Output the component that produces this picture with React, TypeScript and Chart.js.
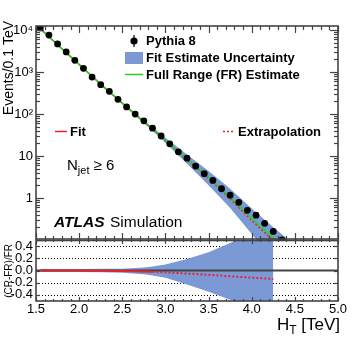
import React, { useEffect, useRef } from 'react';
import { Chart, registerables } from 'chart.js';

Chart.register(...registerables);

const FONT = "'Liberation Sans', Arial, Helvetica, sans-serif";

// Pythia 8 simulated events per 0.1 TeV bin (bin centres in TeV)
const binCenters = [1.55, 1.65, 1.75, 1.85, 1.95, 2.05, 2.15, 2.25, 2.35, 2.45, 2.55, 2.65, 2.75, 2.85, 2.95, 3.05, 3.15, 3.25, 3.35, 3.45, 3.55, 3.65, 3.75, 3.85, 3.95, 4.05, 4.15, 4.25, 4.35];
const pythiaEvents = [11220, 7590, 4680, 3020, 1905, 1230, 759, 501, 347, 224, 148, 100, 69, 46, 30, 19.5, 12.6, 8.9, 5.75, 3.8, 2.63, 1.66, 1.17, 0.79, 0.51, 0.39, 0.25, 0.16, 0.1];

// Smooth curves sampled along H_T
const curveX = [1.5, 1.55, 1.75, 2.0, 2.25, 2.5, 2.75, 2.85, 3.0, 3.25, 3.5, 3.75, 4.0, 4.25, 4.35, 4.4];
const fullRangeEstimate = [13200, 10720, 4470, 1510, 513, 182, 66, 44.2, 24, 8.7, 3.16, 1.05, 0.33, 0.112, 0.072, 0.058];
// (CR-FR)/FR of the control-region fit
const fitRatio = [null, 0, 0, 0, -0.005, -0.01, -0.017, -0.02, -0.03, -0.05, -0.07, -0.095, -0.118, -0.14, null, null];
// fit estimate uncertainty band in the ratio panel
const bandUp = [null, 0.025, 0.025, 0.025, 0.027, 0.03, 0.05, 0.065, 0.1, 0.19, 0.3, 0.45, 0.62, 0.85, null, null];
const bandDown = [null, -0.025, -0.025, -0.025, -0.03, -0.035, -0.06, -0.08, -0.12, -0.23, -0.35, -0.48, -0.62, -0.75, null, null];
// fit estimate uncertainty band in the main panel, relative to FR
const topBandUp = [null, 0.025, 0.025, 0.025, 0.03, 0.04, 0.07, 0.09, 0.14, 0.25, 0.4, 0.58, 0.7, 0.8, 0.9, 0.95];
const topBandDown = [null, -0.025, -0.025, -0.025, -0.03, -0.04, -0.07, -0.09, -0.14, -0.25, -0.36, -0.45, -0.58, -0.72, -0.76, -0.8];

const fitEnd = 2.85; // end of fitted control region

const xTicks = [1.5, 2.0, 2.5, 3.0, 3.5, 4.0, 4.5, 5.0];
const xTickLabels = ['1.5', '2.0', '2.5', '3.0', '3.5', '4.0', '4.5', '5.0'];
const yTicks = [1, 10, 100, 1000, 10000];
const yTickLabels = ['1', '10', '10²', '10³', '10⁴'];
const rTicks = [-0.4, -0.2, 0, 0.2, 0.4];
const rTickLabels = ['-0.4', '-0.2', '0.0', '0.2', '0.4'];
const rGrid = [-0.4, -0.2, 0.2, 0.4];

const BAND = 'rgb(122,153,213)';
const GREEN = '#1fd41f';
const RED = '#e8242a';
const FRAME = '#444';

type P = { x: number; y: number };

function buildSeries(pred: (i: number) => boolean, val: (i: number) => number): P[] {
  const out: P[] = [];
  curveX.forEach((x, i) => {
    if (pred(i)) out.push({ x, y: val(i) });
  });
  return out;
}

const decor = {
  id: 'decor',
  beforeDatasetsDraw(chart: any) {
    const ctx = chart.ctx as CanvasRenderingContext2D;
    const xs = chart.scales.x;
    const r = chart.scales.yRatio;
    ctx.save();
    ctx.strokeStyle = '#000';
    ctx.lineWidth = 1;
    ctx.setLineDash([1, 2]);
    for (const v of rGrid) {
      const yy = Math.round(r.getPixelForValue(v)) + 0.5;
      ctx.beginPath();
      ctx.moveTo(xs.left, yy);
      ctx.lineTo(xs.right, yy);
      ctx.stroke();
    }
    ctx.restore();
  },
  afterDraw(chart: any) {
    const ctx = chart.ctx as CanvasRenderingContext2D;
    const xs = chart.scales.x;
    const y = chart.scales.y;
    const r = chart.scales.yRatio;
    const L = xs.left, R = xs.right;
    ctx.save();
    ctx.strokeStyle = FRAME;
    ctx.lineWidth = 1.2;
    ctx.setLineDash([]);
    const vline = (px: number, y0: number, y1: number) => {
      ctx.beginPath(); ctx.moveTo(px, y0); ctx.lineTo(px, y1); ctx.stroke();
    };
    const hline = (py: number, x0: number, x1: number) => {
      ctx.beginPath(); ctx.moveTo(x0, py); ctx.lineTo(x1, py); ctx.stroke();
    };
    // x ticks
    for (let k = 15; k <= 50; k++) {
      const px = Math.round(xs.getPixelForValue(k / 10)) + 0.5;
      const major = k % 5 === 0;
      const tTop = major ? 7 : 4;
      vline(px, y.top, y.top + tTop);
      vline(px, y.bottom, y.bottom - tTop);
      vline(px, r.top, r.top + (major ? 4 : 2));
      vline(px, r.bottom, r.bottom - (major ? 4 : 2));
    }
    // log y ticks
    for (let d = -1; d <= 4; d++) {
      for (let m = 1; m <= 9; m++) {
        const v = m * Math.pow(10, d);
        if (v < y.min || v > y.max) continue;
        const py = Math.round(y.getPixelForValue(v)) + 0.5;
        const len = m === 1 ? 8 : 4;
        hline(py, L, L + len);
        hline(py, R, R - len);
      }
    }
    // ratio y ticks
    for (const v of rTicks) {
      const py = Math.round(r.getPixelForValue(v)) + 0.5;
      hline(py, L, L + 4);
      hline(py, R, R - 4);
    }
    // frames
    ctx.lineWidth = 1.6;
    ctx.strokeRect(L, y.top, R - L, y.bottom - y.top - 1);
    ctx.strokeRect(L, r.top + 0.5, R - L, r.bottom - r.top - 0.5);

    // legend
    ctx.fillStyle = '#000';
    ctx.strokeStyle = '#000';
    ctx.lineWidth = 1.2;
    vline(134, 35, 47);
    ctx.beginPath(); ctx.arc(134, 41, 3.6, 0, Math.PI * 2); ctx.fill();
    ctx.fillStyle = BAND;
    ctx.fillRect(125, 52, 18, 12);
    ctx.strokeStyle = GREEN;
    ctx.lineWidth = 1.5;
    hline(74.5, 125, 143);
    ctx.strokeStyle = RED;
    hline(131.5, 55, 67);
    ctx.setLineDash([2, 2]);
    hline(131.5, 223, 234);
    ctx.setLineDash([]);

    ctx.fillStyle = '#000';
    ctx.textBaseline = 'alphabetic';
    ctx.textAlign = 'left';
    ctx.font = `bold 13px ${FONT}`;
    ctx.fillText('Pythia 8', 146, 45);
    ctx.fillText('Fit Estimate Uncertainty', 146, 62);
    ctx.fillText('Full Range (FR) Estimate', 146, 79);
    ctx.fillText('Fit', 70, 136);
    ctx.fillText('Extrapolation', 238, 136);

    // N_jet >= 6
    ctx.font = `15px ${FONT}`;
    ctx.fillText('N', 67, 170);
    let cx = 67 + ctx.measureText('N').width;
    ctx.font = `11px ${FONT}`;
    ctx.fillText('jet', cx, 174);
    cx += ctx.measureText('jet').width;
    ctx.font = `15px ${FONT}`;
    ctx.fillText(' ≥ 6', cx, 170);

    // ATLAS Simulation
    ctx.font = `italic bold 15.5px ${FONT}`;
    ctx.fillText('ATLAS', 54, 227);
    ctx.font = `15.5px ${FONT}`;
    ctx.fillText('Simulation', 110, 227);

    // x title
    ctx.font = `17px ${FONT}`;
    const wH = ctx.measureText('H').width;
    const w3 = ctx.measureText(' [TeV]').width;
    ctx.font = `12px ${FONT}`;
    const wT = ctx.measureText('T').width;
    let tx = 340 - (wH + wT + w3);
    ctx.font = `17px ${FONT}`;
    ctx.fillText('H', tx, 330);
    tx += wH;
    ctx.font = `12px ${FONT}`;
    ctx.fillText('T', tx, 334);
    tx += wT;
    ctx.font = `17px ${FONT}`;
    ctx.fillText(' [TeV]', tx, 330);

    // y titles
    ctx.save();
    ctx.translate(13, 21);
    ctx.rotate(-Math.PI / 2);
    ctx.textAlign = 'right';
    ctx.font = `14px ${FONT}`;
    ctx.fillText('Events/0.1 TeV', 0, 0);
    ctx.restore();
    ctx.save();
    ctx.translate(12, 244);
    ctx.rotate(-Math.PI / 2);
    ctx.textAlign = 'right';
    ctx.font = `10px ${FONT}`;
    ctx.fillText('(CR-FR)/FR', 0, 0);
    ctx.restore();

    ctx.restore();
  },
};

export default function App() {
  const ref = useRef<HTMLCanvasElement | null>(null);

  useEffect(() => {
    if (!ref.current) return;

    const points: P[] = binCenters.map((x, i) => ({ x, y: pythiaEvents[i] }));
    const frLine = buildSeries(() => true, (i) => fullRangeEstimate[i]);
    const has = (i: number) => fitRatio[i] !== null;
    const fitTop = buildSeries((i) => has(i) && curveX[i] <= fitEnd, (i) => fullRangeEstimate[i] * (1 + (fitRatio[i] as number)));
    const extTop = buildSeries((i) => has(i) && curveX[i] >= fitEnd, (i) => fullRangeEstimate[i] * (1 + (fitRatio[i] as number)));
    const fitRat = buildSeries((i) => has(i) && curveX[i] <= fitEnd, (i) => fitRatio[i] as number);
    const extRat = buildSeries((i) => has(i) && curveX[i] >= fitEnd, (i) => fitRatio[i] as number);
    const hasT = (i: number) => topBandUp[i] !== null;
    const bandTopUp = buildSeries(hasT, (i) => fullRangeEstimate[i] * (1 + (topBandUp[i] as number)));
    const bandTopDn = buildSeries(hasT, (i) => fullRangeEstimate[i] * (1 + (topBandDown[i] as number)));
    const hasB = (i: number) => bandUp[i] !== null;
    const bandRatUp = buildSeries(hasB, (i) => bandUp[i] as number);
    const bandRatDn = buildSeries(hasB, (i) => bandDown[i] as number);

    const line = (extra: any) => ({
      type: 'line',
      pointRadius: 0,
      borderWidth: 1.5,
      tension: 0,
      fill: false,
      clip: 0,
      xAxisID: 'x',
      ...extra,
    });

    const tickFont = { family: FONT, size: 13 };

    const chart = new Chart(ref.current, {
      type: 'line',
      data: {
        datasets: [
          {
            type: 'line', label: 'Pythia 8', data: points, yAxisID: 'y', xAxisID: 'x',
            showLine: false, pointRadius: 3.4, pointBackgroundColor: '#000', pointBorderWidth: 0,
            borderColor: '#000', clip: 0, order: 0,
          },
          line({ label: 'Full Range (FR) Estimate', data: frLine, yAxisID: 'y', borderColor: GREEN, order: 1 }),
          line({ label: 'Fit', data: fitTop, yAxisID: 'y', borderColor: RED, order: 2 }),
          line({ label: 'Extrapolation', data: extTop, yAxisID: 'y', borderColor: RED, borderDash: [2, 2], order: 2 }),
          line({ label: 'Fit ratio', data: fitRat, yAxisID: 'yRatio', borderColor: RED, borderWidth: 2, order: 2 }),
          line({ label: 'Extrapolation ratio', data: extRat, yAxisID: 'yRatio', borderColor: RED, borderWidth: 2, borderDash: [2, 2], order: 2 }),
          line({ label: 'zero', data: [{ x: 1.5, y: 0 }, { x: 5.0, y: 0 }], yAxisID: 'yRatio', borderColor: FRAME, borderWidth: 2, order: 3 }),
          line({ label: 'Fit Estimate Uncertainty', data: bandTopUp, yAxisID: 'y', borderWidth: 0, borderColor: BAND, backgroundColor: BAND, fill: '+1', order: 4 }),
          line({ label: 'band low', data: bandTopDn, yAxisID: 'y', borderWidth: 0, borderColor: BAND, order: 4 }),
          line({ label: 'ratio band', data: bandRatUp, yAxisID: 'yRatio', borderWidth: 0, borderColor: BAND, backgroundColor: BAND, fill: '+1', order: 4 }),
          line({ label: 'ratio band low', data: bandRatDn, yAxisID: 'yRatio', borderWidth: 0, borderColor: BAND, order: 4 }),
        ] as any,
      },
      options: {
        animation: false,
        responsive: false,
        events: [],
        layout: { padding: { left: 0, top: 26, right: 19, bottom: 0 } },
        plugins: { legend: { display: false }, tooltip: { enabled: false } },
        scales: {
          x: {
            type: 'linear', position: 'bottom', min: 1.5, max: 5.0,
            afterBuildTicks: (s: any) => { s.ticks = xTicks.map((v) => ({ value: v })); },
            afterFit: (s: any) => { s.height = 42; },
            ticks: {
              autoSkip: false, maxRotation: 0, padding: 1, color: '#000', font: tickFont,
              callback: (v: any) => xTickLabels[xTicks.indexOf(Number(v))] ?? '',
            },
            grid: { display: false, drawTicks: false },
            border: { display: false },
          },
          y: {
            type: 'logarithmic', position: 'left', stack: 'v', stackWeight: 214, weight: 2,
            min: 0.1, max: 12500,
            afterBuildTicks: (s: any) => { s.ticks = yTicks.map((v) => ({ value: v })); },
            afterFit: (s: any) => { s.width = 36; },
            ticks: {
              autoSkip: false, padding: 3, color: '#000', font: tickFont,
              callback: (v: any) => yTickLabels[yTicks.indexOf(Number(v))] ?? '',
            },
            grid: { display: false, drawTicks: false },
            border: { display: false },
          },
          yRatio: {
            type: 'linear', axis: 'y', position: 'left', stack: 'v', stackWeight: 61, weight: 1,
            min: -0.5, max: 0.5,
            afterBuildTicks: (s: any) => { s.ticks = rTicks.map((v) => ({ value: v })); },
            afterFit: (s: any) => { s.width = 36; },
            ticks: {
              autoSkip: false, padding: 3, color: '#000', font: tickFont,
              callback: (v: any) => {
                const i = rTicks.findIndex((t) => Math.abs(t - Number(v)) < 1e-9);
                return i >= 0 ? rTickLabels[i] : '';
              },
            },
            grid: { display: false, drawTicks: false },
            border: { display: false },
          },
        },
      } as any,
      plugins: [decor],
    });

    return () => chart.destroy();
  }, []);

  return (
    <div style={{ position: 'fixed', left: 0, top: 0, width: 357, height: 343, background: '#fff' }}>
      <canvas ref={ref} width={357} height={343} style={{ display: 'block', width: 357, height: 343 }} />
    </div>
  );
}
